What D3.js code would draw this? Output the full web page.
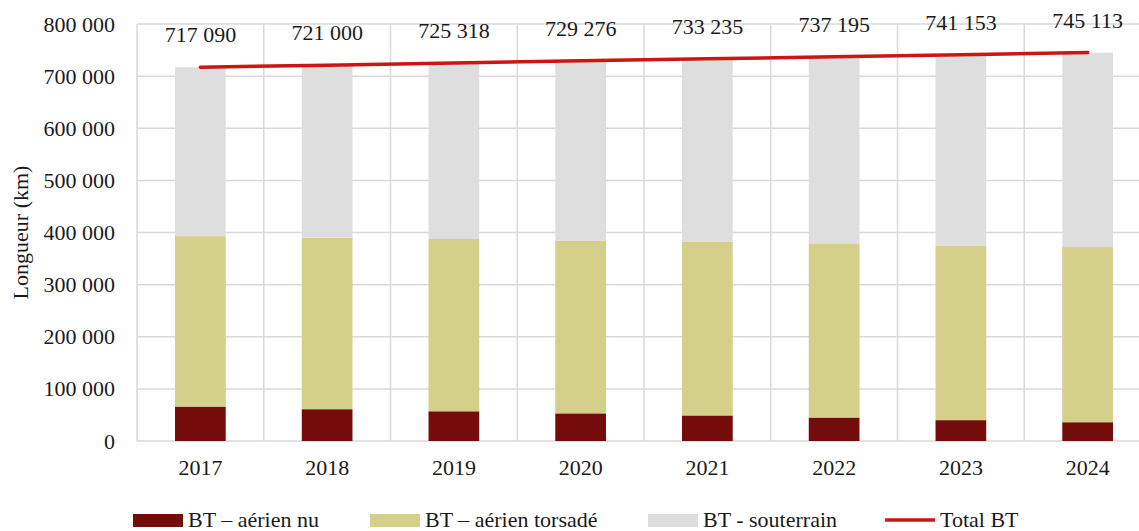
<!DOCTYPE html>
<html>
<head>
<meta charset="utf-8">
<script src="https://cdn.jsdelivr.net/npm/d3@7"></script>
<style>
  body { margin: 0; background: #fff; }
  text { font-family: 'Liberation Serif', 'DejaVu Serif', serif; fill: #1a1a1a; }
</style>
</head>
<body>
<div class="chart-node"></div>
<script>
const width = 1139, height = 531

// data (km)
const years = ['2017', '2018', '2019', '2020', '2021', '2022', '2023', '2024']
const aerienNu = [66000, 61000, 57000, 53000, 49000, 45000, 40000, 36000]
const aerienTorsade = [327000, 329000, 330500, 331000, 333000, 333000, 335000, 336000]
const totalBT = [717090, 721000, 725318, 729276, 733235, 737195, 741153, 745113]
const souterrain = totalBT.map((t, i) => t - aerienNu[i] - aerienTorsade[i])
const yTicks = [0, 100000, 200000, 300000, 400000, 500000, 600000, 700000, 800000]

const seriesNames = ['BT – aérien nu', 'BT – aérien torsadé', 'BT - souterrain']
const colors = ['#730c0a', '#d4cf89', '#dedede']
const lineColor = '#cc1515'

const fmt = v => d3.format(',')(v).replace(/,/g, ' ')

const margin = { top: 24, right: -12, bottom: 90, left: 137 }

const svg = d3.select('.chart-node').append('svg')
    .attr('width', width)
    .attr('height', height)

const x = d3.scaleBand()
    .domain(years)
    .range([margin.left, width - margin.right])

const y = d3.scaleLinear()
    .domain([0, 800000])
    .range([height - margin.bottom, margin.top])

// grid
const grid = svg.append('g').attr('class', 'grid')
grid.selectAll('line.h')
    .data(yTicks)
    .enter().append('line')
    .attr('class', 'h')
    .attr('x1', margin.left)
    .attr('x2', width - margin.right)
    .attr('y1', d => y(d))
    .attr('y2', d => y(d))
    .style('stroke', '#d9d9d9')
    .style('stroke-width', 1.5)

grid.selectAll('line.v')
    .data(years.concat(['end']))
    .enter().append('line')
    .attr('class', 'v')
    .attr('x1', (d, i) => margin.left + i * x.step())
    .attr('x2', (d, i) => margin.left + i * x.step())
    .attr('y1', y(800000))
    .attr('y2', y(0))
    .style('stroke', '#d9d9d9')
    .style('stroke-width', 1.5)

// stacked bars
const rows = years.map((yr, i) => ({
    year: yr, nu: aerienNu[i], torsade: aerienTorsade[i], sout: souterrain[i]
}))
const stack = d3.stack().keys(['nu', 'torsade', 'sout'])(rows)
const barW = x.bandwidth() * 0.4

svg.append('g').attr('class', 'bars')
    .selectAll('g')
    .data(stack)
    .enter().append('g')
    .attr('fill', (d, i) => colors[i])
    .selectAll('rect')
    .data(d => d)
    .enter().append('rect')
    .attr('x', d => x(d.data.year) + (x.bandwidth() - barW) / 2)
    .attr('width', barW)
    .attr('y', d => y(d[1]))
    .attr('height', d => y(d[0]) - y(d[1]))

// axes labels
const yAxis = d3.axisLeft(y).tickValues(yTicks).tickFormat(fmt).tickSize(0).tickPadding(22)
svg.append('g')
    .attr('transform', 'translate(' + margin.left + ',0)')
    .call(yAxis)
    .call(g => g.select('.domain').remove())
    .selectAll('text')
    .style('font-size', '22px')
    .attr('fill', '#1a1a1a')

const xAxis = d3.axisBottom(x).tickSize(0).tickPadding(18)
svg.append('g')
    .attr('transform', 'translate(0,' + y(0) + ')')
    .call(xAxis)
    .call(g => g.select('.domain').remove())
    .selectAll('text')
    .style('font-size', '22px')
    .attr('fill', '#1a1a1a')

svg.append('text')
    .attr('transform', 'translate(28,' + (margin.top + y(0)) / 2 + ') rotate(-90)')
    .attr('text-anchor', 'middle')
    .style('font-size', '22px')
    .text('Longueur (km)')

// total line
const line = d3.line()
    .x((d, i) => x(years[i]) + x.bandwidth() / 2)
    .y(d => y(d))

svg.append('path')
    .datum(totalBT)
    .attr('d', line)
    .style('fill', 'none')
    .style('stroke', lineColor)
    .style('stroke-width', 3.5)
    .style('stroke-linecap', 'round')

svg.append('g').attr('class', 'totals')
    .selectAll('text')
    .data(totalBT)
    .enter().append('text')
    .attr('x', (d, i) => x(years[i]) + x.bandwidth() / 2)
    .attr('y', d => y(d) - 25)
    .attr('text-anchor', 'middle')
    .style('font-size', '22px')
    .text(d => fmt(d))

// legend
const legendX = [133, 370, 648]
const legend = svg.append('g').attr('class', 'legend')
seriesNames.forEach((name, i) => {
    legend.append('rect')
        .attr('x', legendX[i]).attr('y', 514)
        .attr('width', 50).attr('height', 13)
        .attr('fill', colors[i])
    legend.append('text')
        .attr('x', legendX[i] + 55).attr('y', 527)
        .style('font-size', '22px')
        .text(name)
})
legend.append('line')
    .attr('x1', 885).attr('x2', 935)
    .attr('y1', 520).attr('y2', 520)
    .style('stroke', lineColor)
    .style('stroke-width', 3.5)
legend.append('text')
    .attr('x', 940).attr('y', 527)
    .style('font-size', '22px')
    .text('Total BT')
</script>
</body>
</html>
